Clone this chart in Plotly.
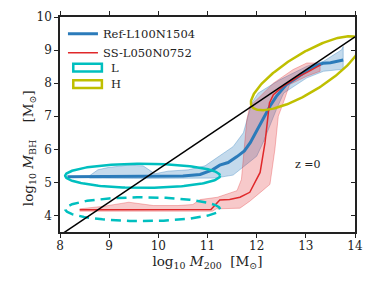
import numpy as np
import plotly.graph_objects as go

# ---- data ----
ref_x = [8.15, 8.5, 9.0, 9.5, 10.0, 10.5, 10.85, 11.1, 11.25, 11.42, 11.6, 11.75, 11.87, 12.0, 12.13,
         12.27, 12.4, 12.6, 12.8, 13.0, 13.15, 13.35, 13.5, 13.76]
ref_y = [5.17, 5.17, 5.18, 5.19, 5.17, 5.19, 5.24, 5.38, 5.52, 5.6, 5.78, 5.95, 6.2, 6.55, 6.9,
         7.3, 7.6, 7.95, 8.15, 8.35, 8.5, 8.6, 8.62, 8.7]
ref_up_x = [8.6, 8.77, 8.98, 9.38, 9.69, 9.93, 10.2, 10.61, 10.95, 11.25, 11.52, 11.73, 11.83, 11.9,
            12.03, 12.47, 13.02, 13.36, 13.73, 13.76]
ref_up_y = [5.2, 5.38, 5.45, 5.52, 5.5, 5.26, 5.34, 5.38, 5.5, 5.8, 6.08, 6.5, 7.0, 7.4,
            7.7, 8.1, 8.51, 8.66, 9.01, 9.11]
ref_lo_x = [8.6, 9.5, 10.5, 11.15, 11.52, 11.66, 11.8, 12.0, 12.13, 12.27, 12.4, 12.55, 13.02, 13.36, 13.76]
ref_lo_y = [5.13, 5.12, 5.12, 5.13, 5.22, 5.38, 5.54, 5.79, 6.2, 6.7, 7.2, 7.7, 8.16, 8.36, 8.42]

ss_x = [8.4, 9.0, 9.5, 10.0, 10.5, 11.07, 11.25, 11.45, 11.66, 11.86, 12.07, 12.17, 12.26, 12.34,
        12.55, 12.85, 13.05, 13.3]
ss_y = [4.17, 4.17, 4.17, 4.17, 4.17, 4.18, 4.47, 4.48, 4.55, 4.7, 5.3, 6.2, 7.4, 7.65,
        7.92, 8.2, 8.35, 8.55]
ss_up_x = [8.4, 8.9, 9.4, 9.9, 10.4, 10.7, 10.85, 11.2, 11.6, 11.69, 11.8, 11.86, 12.07, 12.34,
           12.74, 13.02, 13.29]
ss_up_y = [4.2, 4.28, 4.4, 4.3, 4.3, 4.33, 4.48, 4.55, 4.75, 5.09, 6.9, 7.3, 7.6, 8.0,
           8.41, 8.61, 8.61]
ss_lo_x = [8.4, 9.5, 10.5, 11.1, 11.18, 11.66, 11.86, 12.07, 12.27, 12.37, 12.44, 12.54, 12.67, 13.02, 13.29]
ss_lo_y = [4.13, 4.13, 4.13, 4.13, 4.2, 4.22, 4.43, 4.69, 4.94, 5.99, 7.0, 7.4, 7.96, 8.21, 8.36]

diag_x = [8.0, 14.0]
diag_y = [3.4, 9.4]

# ellipses: (center x, center y, width, height, angle deg)
ell_L = (9.68, 5.2, 3.15, 0.73, 0.0)
ell_L_ss = (9.68, 4.19, 3.15, 0.72, 0.0)
ell_H = (13.0, 8.3, 3.0, 1.0, 45.0)

ellipse_labels = ["L", "H"]

BLUE = "#2b7bba"
RED = "#e0282a"
CYAN = "#00bfbf"
YEL = "#bfbf00"
FONT = "DejaVu Serif"


def ellipse(xc, yc, w, h, ang):
    t = np.linspace(0, 2 * np.pi, 200)
    a = np.deg2rad(ang)
    x = xc + (w / 2) * np.cos(t) * np.cos(a) - (h / 2) * np.sin(t) * np.sin(a)
    y = yc + (w / 2) * np.cos(t) * np.sin(a) + (h / 2) * np.sin(t) * np.cos(a)
    return x, y


fig = go.Figure()

# bands
fig.add_trace(go.Scatter(x=ref_up_x + ref_lo_x[::-1], y=ref_up_y + ref_lo_y[::-1], fill="toself",
                         fillcolor="rgba(43,123,186,0.28)", line=dict(color="rgba(43,123,186,0.35)", width=1),
                         mode="lines", showlegend=False, hoverinfo="skip"))
fig.add_trace(go.Scatter(x=ss_up_x + ss_lo_x[::-1], y=ss_up_y + ss_lo_y[::-1], fill="toself",
                         fillcolor="rgba(224,40,42,0.25)", line=dict(color="rgba(224,40,42,0.3)", width=1),
                         mode="lines", showlegend=False, hoverinfo="skip"))

# medians
fig.add_trace(go.Scatter(x=ref_x, y=ref_y, mode="lines", name="Ref-L100N1504",
                         line=dict(color=BLUE, width=3), legendrank=1))
fig.add_trace(go.Scatter(x=ss_x, y=ss_y, mode="lines", name="SS-L050N0752",
                         line=dict(color=RED, width=1.5), legendrank=2))

# ellipses
ex, ey = ellipse(*ell_L)
fig.add_trace(go.Scatter(x=ex, y=ey, mode="lines", showlegend=False,
                         line=dict(color=CYAN, width=2.5), hoverinfo="skip"))
ex, ey = ellipse(*ell_L_ss)
fig.add_trace(go.Scatter(x=ex, y=ey, mode="lines", showlegend=False,
                         line=dict(color=CYAN, width=2.5, dash="10px,6px"), hoverinfo="skip"))
ex, ey = ellipse(*ell_H)
fig.add_trace(go.Scatter(x=ex, y=ey, mode="lines", showlegend=False,
                         line=dict(color=YEL, width=2.5), hoverinfo="skip"))

# one-to-one style line (on overlay axis)
fig.add_trace(go.Scatter(x=diag_x, y=diag_y, mode="lines", showlegend=False, yaxis="y2",
                         line=dict(color="black", width=1.5), hoverinfo="skip"))

# legend rows for the ellipse patches (rectangle icons)
shapes = []
annotations = []
for i, (lab, col) in enumerate(zip(ellipse_labels, [CYAN, YEL])):
    yc = 0.764 - i * 0.076
    shapes.append(dict(type="rect", xref="paper", yref="paper", x0=0.045, x1=0.142,
                       y0=yc - 0.018, y1=yc + 0.018, line=dict(color=col, width=2.5),
                       fillcolor="rgba(0,0,0,0)"))
    annotations.append(dict(x=0.166, y=yc, xref="paper", yref="paper", xanchor="left",
                            yanchor="middle", text=lab, showarrow=False,
                            font=dict(family=FONT, size=11.5, color="#222")))

axis_font = dict(family=FONT, size=12, color="#222")
title_font = dict(family=FONT, size=13.5, color="#222")
annotations += [
    dict(x=13.05, y=5.55, xref="x", yref="y", text="z =0", showarrow=False,
         font=dict(family=FONT, size=11, color="#222")),
    dict(x=-0.105, y=0.39, xref="paper", yref="paper", xanchor="center", yanchor="middle",
         textangle=-90, showarrow=False,
         text="log<sub>10</sub> <i>M</i><sub>BH</sub>    [M<sub>⊙</sub>]",
         font=title_font),
]

fig.update_layout(
    width=374, height=292,
    margin=dict(l=60, r=19, t=17, b=60),
    paper_bgcolor="white", plot_bgcolor="white",
    font=dict(family=FONT, size=11, color="#222"),
    xaxis=dict(range=[8, 14], dtick=1, tick0=8, showgrid=False, zeroline=False, automargin=False,
               showline=True, linecolor="#222", linewidth=1.5, mirror="ticks",
               ticks="outside", ticklen=4, tickwidth=1, tickcolor="#222", tickfont=axis_font,
               ticklabelstandoff=-2,
               title=dict(text="log<sub>10</sub> <i>M</i><sub>200</sub>  [M<sub>⊙</sub>]",
                          font=title_font, standoff=2)),
    yaxis=dict(range=[3.5, 10], dtick=1, tick0=4, showgrid=False, zeroline=False, automargin=False,
               showline=True, linecolor="#222", linewidth=1.5, mirror=True,
               ticks="outside", ticklen=4, tickwidth=1, tickcolor="#222", tickfont=axis_font),
    yaxis2=dict(range=[3.5, 10], dtick=1, tick0=4, overlaying="y", side="right", anchor="x",
                automargin=False,
                showgrid=False, zeroline=False, showline=False, ticks="inside", ticklen=4,
                tickwidth=1, tickcolor="#222", showticklabels=False),
    legend=dict(x=0.01, y=0.99, xanchor="left", yanchor="top", bgcolor="rgba(0,0,0,0)",
                font=dict(family=FONT, size=11.5, color="#222"), tracegroupgap=0),
    shapes=shapes,
    annotations=annotations,
    showlegend=True,
)

fig.write_html("out.html", config={"displayModeBar": False},
               post_script="document.body.style.margin='0';document.body.style.overflow='hidden';")
